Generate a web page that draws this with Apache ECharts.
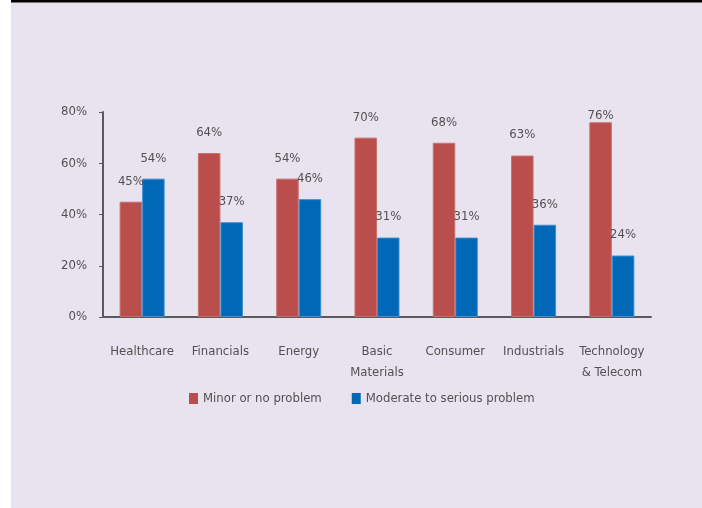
<!DOCTYPE html>
<html>
<head>
<meta charset="utf-8">
<script src="https://cdn.jsdelivr.net/npm/echarts@6/dist/echarts.min.js"></script>
<style>
  html, body { margin: 0; padding: 0; background: #fff; }
  #main { width: 702px; height: 508px; }
</style>
</head>
<body>
<div id="main"></div>
<script>
var categories = ['Healthcare', 'Financials', 'Energy', 'Basic\nMaterials', 'Consumer', 'Industrials', 'Technology\n& Telecom'];
var minorValues = [45, 64, 54, 70, 68, 63, 76];
var seriousValues = [54, 37, 46, 31, 31, 36, 24];
var seriesNames = ['Minor or no problem', 'Moderate to serious problem'];
var yTicks = [0, 20, 40, 60, 80];

var font = "'Liberation Sans Narrow', 'DejaVu Sans Condensed', 'Roboto', sans-serif";
var textColor = '#515151';

var myChart = echarts.init(document.getElementById('main'));

// the tallest label sits right on its bar (it hits the top of the chart)
function withLabels(values) {
  return values.map(function (v) {
    return { value: v, label: { distance: v >= 75 ? 0 : 14 } };
  });
}

myChart.setOption({
  backgroundColor: '#fff',
  animation: false,
  graphic: [
    { type: 'rect', left: 11, top: 0, z: -10, shape: { width: 691, height: 508 }, style: { fill: '#E8E3EF' } },
    { type: 'rect', left: 11, top: 0, z: -9, shape: { width: 691, height: 2.5 }, style: { fill: '#000' } }
  ],
  legend: {
    left: 184,
    top: 387,
    itemWidth: 9,
    itemHeight: 11,
    itemGap: 30,
    icon: 'rect',
    itemStyle: { borderWidth: 0 },
    textStyle: { fontFamily: font, fontSize: 13, color: textColor },
    data: seriesNames
  },
  grid: { left: 103, right: 51, top: 112, bottom: 191 },
  xAxis: {
    type: 'category',
    data: categories,
    axisLine: { lineStyle: { color: '#5a5a5a', width: 2 } },
    axisTick: { length: 6, lineStyle: { color: '#5a5a5a', width: 1 } },
    axisLabel: {
      margin: 24,
      fontFamily: font,
      fontSize: 13,
      lineHeight: 21,
      color: textColor,
      interval: 0
    }
  },
  yAxis: {
    type: 'value',
    min: yTicks[0],
    max: yTicks[yTicks.length - 1],
    interval: 20,
    splitLine: { show: false },
    axisLine: { show: true, lineStyle: { color: '#5a5a5a', width: 2 } },
    axisTick: { show: true, length: 4, lineStyle: { color: '#5a5a5a' } },
    axisLabel: {
      margin: 16,
      fontFamily: font,
      fontSize: 13,
      color: textColor,
      formatter: '{value}%'
    }
  },
  series: [
    {
      name: seriesNames[0],
      type: 'bar',
      data: withLabels(minorValues),
      barGap: '0%',
      barCategoryGap: '42.5%',
      itemStyle: { color: '#BA4E4C', borderColor: '#CC6F6C', borderWidth: 1 },
      label: { show: true, position: 'top', formatter: '{c}%', fontFamily: font, fontSize: 13, color: textColor }
    },
    {
      name: seriesNames[1],
      type: 'bar',
      data: withLabels(seriousValues),
      barGap: '0%',
      barCategoryGap: '42.5%',
      itemStyle: { color: '#0068B6', borderColor: '#3F8FD2', borderWidth: 1 },
      label: { show: true, position: 'top', formatter: '{c}%', fontFamily: font, fontSize: 13, color: textColor }
    }
  ]
});
</script>
</body>
</html>
